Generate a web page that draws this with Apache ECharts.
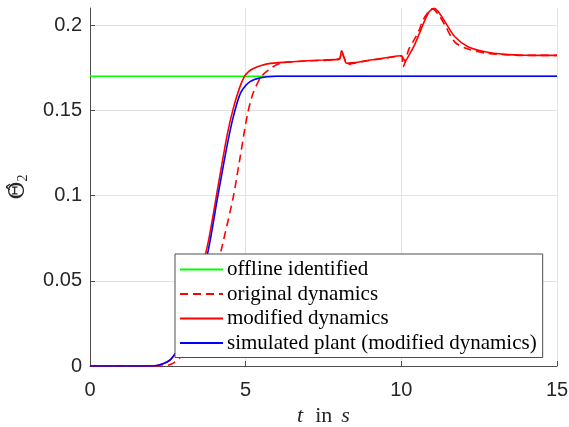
<!DOCTYPE html>
<html>
<head>
<meta charset="utf-8">
<script src="https://cdn.jsdelivr.net/npm/echarts@6/dist/echarts.min.js"></script>
<style>
  html, body { margin: 0; padding: 0; background: #fff; }
  #chart { width: 569px; height: 427px; }
</style>
</head>
<body>
<div id="chart"></div>
<script>
// time (s) and estimated parameter values
var tOffline = [0, 15];
var yOffline = [0.17, 0.17];

var tOriginal = [0, 2.3, 2.6, 2.9, 3.2, 3.5, 3.8, 4.0, 4.24, 4.6, 4.8, 5.04, 5.2, 5.35, 5.51, 5.73, 6.1, 7.0, 8.0, 8.08, 8.16, 8.28, 8.45, 9.0, 9.5, 10.0, 10.05, 10.12, 10.23, 10.4, 10.55, 10.7, 10.9, 11.0, 11.2, 11.4, 11.72, 12.14, 12.69, 13.33, 14.0, 15.0];
var yOriginal = [0, 0, 0.001, 0.005, 0.011, 0.020, 0.037, 0.051, 0.070, 0.099, 0.120, 0.146, 0.158, 0.1648, 0.170, 0.1736, 0.1775, 0.179, 0.180, 0.1845, 0.181, 0.177, 0.1775, 0.1793, 0.1806, 0.182, 0.1755, 0.178, 0.1853, 0.191, 0.196, 0.203, 0.2085, 0.2095, 0.206, 0.200, 0.190, 0.1859, 0.1836, 0.1826, 0.1822, 0.1822];

var tModified = [0, 2.0, 2.3, 2.6, 2.9, 3.2, 3.5, 3.8, 4.1, 4.4, 4.6, 4.8, 4.95, 5.1, 5.25, 5.5, 5.8, 6.5, 7.5, 8.0, 8.08, 8.16, 8.24, 8.4, 8.6, 9.0, 9.5, 10.0, 10.06, 10.12, 10.25, 10.44, 10.6, 10.76, 10.9, 11.06, 11.2, 11.4, 11.72, 12.14, 12.69, 13.33, 14.0, 15.0];
var yModified = [0, 0, 0.001, 0.004, 0.013, 0.030, 0.050, 0.073, 0.104, 0.135, 0.151, 0.163, 0.1695, 0.1728, 0.1745, 0.1763, 0.1775, 0.1785, 0.1795, 0.180, 0.1849, 0.181, 0.1776, 0.1778, 0.1782, 0.1795, 0.1808, 0.182, 0.1805, 0.179, 0.1825, 0.189, 0.196, 0.203, 0.208, 0.2098, 0.2075, 0.202, 0.1931, 0.1873, 0.1843, 0.1828, 0.1823, 0.1822];

var tPlant = [0, 2.0, 2.3, 2.6, 2.9, 3.2, 3.5, 3.8, 4.1, 4.4, 4.6, 4.82, 5.0, 5.14, 5.3, 5.46, 5.7, 6.0, 15.0];
var yPlant = [0, 0, 0.001, 0.004, 0.012, 0.028, 0.046, 0.068, 0.099, 0.129, 0.146, 0.1595, 0.1645, 0.1668, 0.1682, 0.1690, 0.1697, 0.170, 0.170];

var xTicks = [0, 5, 10, 15];
var yTicks = [0, 0.05, 0.1, 0.15, 0.2];

function zip(t, y) {
    var res = [];
    for (var i = 0; i < t.length; i++) res.push([t[i], y[i]]);
    return res;
}

var chart = echarts.init(document.getElementById('chart'), null, { renderer: 'canvas' });

var axisColor = '#4d4d4d';
var serif = 'Liberation Serif, DejaVu Serif, serif';
var tickFont = { color: '#262626', fontSize: 20, fontFamily: 'Liberation Sans, Arial, sans-serif' };

var option = {
    backgroundColor: '#fff',
    animation: false,
    grid: { left: 90, right: 12, top: 8, bottom: 61, containLabel: false, outerBoundsMode: 'none' },
    legend: {
        orient: 'vertical',
        left: 175,
        top: 254,
        itemWidth: 43,
        itemHeight: 14,
        itemGap: 3.5,
        padding: [5, 6, 4, 4],
        backgroundColor: '#fff',
        borderColor: '#4d4d4d',
        borderWidth: 1,
        itemStyle: { opacity: 0 },
        textStyle: { color: '#000', fontSize: 21, lineHeight: 21, fontFamily: serif, padding: [0, 0, 0, -1] },
        data: ['offline identified', 'original dynamics', 'modified dynamics', 'simulated plant (modified dynamics)']
    },
    xAxis: {
        type: 'value',
        min: 0,
        max: 15,
        interval: 5,
        name: '{i|t}{r|in}{i|s}',
        nameLocation: 'middle',
        nameGap: 35,
        nameTextStyle: {
            rich: {
                i: { fontSize: 22, fontStyle: 'italic', fontFamily: serif, color: '#262626' },
                r: { fontSize: 22, fontFamily: serif, color: '#262626', padding: [0, 9, 0, 12] }
            }
        },
        axisLine: { show: true, onZero: false, lineStyle: { color: axisColor, width: 1 } },
        axisTick: { show: true, inside: true, length: 5, lineStyle: { color: axisColor } },
        axisLabel: Object.assign({ margin: 14 }, tickFont),
        splitLine: { show: true, lineStyle: { color: '#e3e3e3', width: 1 } }
    },
    yAxis: {
        type: 'value',
        min: 0,
        max: 0.21,
        interval: 0.05,
        name: '{t|Θ̂}{s|2}',
        nameLocation: 'middle',
        nameRotate: 90,
        nameGap: 60,
        nameTextStyle: {
            rich: {
                t: { fontSize: 22, fontFamily: 'DejaVu Serif, serif', color: '#262626' },
                s: { fontSize: 14, fontFamily: serif, color: '#262626', verticalAlign: 'bottom', padding: [10, 0, 0, 0] }
            }
        },
        axisLine: { show: true, lineStyle: { color: axisColor, width: 1 } },
        axisTick: { show: true, inside: true, length: 5, lineStyle: { color: axisColor } },
        axisLabel: Object.assign({ margin: 8, showMaxLabel: false }, tickFont),
        splitLine: { show: true, showMaxLine: false, lineStyle: { color: '#e3e3e3', width: 1 } }
    },
    series: [
        {
            name: 'offline identified',
            type: 'line',
            data: zip(tOffline, yOffline),
            symbol: 'none',
            lineStyle: { color: '#00ff00', width: 1.6 },
            itemStyle: { color: '#00ff00' }
        },
        {
            name: 'original dynamics',
            type: 'line',
            data: zip(tOriginal, yOriginal),
            symbol: 'none',
            smooth: 0.3,
            lineStyle: { color: '#ff0000', width: 1.6, type: [8, 5] },
            itemStyle: { color: '#ff0000' }
        },
        {
            name: 'modified dynamics',
            type: 'line',
            data: zip(tModified, yModified),
            symbol: 'none',
            smooth: 0.3,
            lineStyle: { color: '#ff0000', width: 1.6 },
            itemStyle: { color: '#ff0000' }
        },
        {
            name: 'simulated plant (modified dynamics)',
            type: 'line',
            data: zip(tPlant, yPlant),
            symbol: 'none',
            smooth: 0.3,
            lineStyle: { color: '#0000ff', width: 1.6 },
            itemStyle: { color: '#0000ff' }
        }
    ]
};

chart.setOption(option);
</script>
</body>
</html>
